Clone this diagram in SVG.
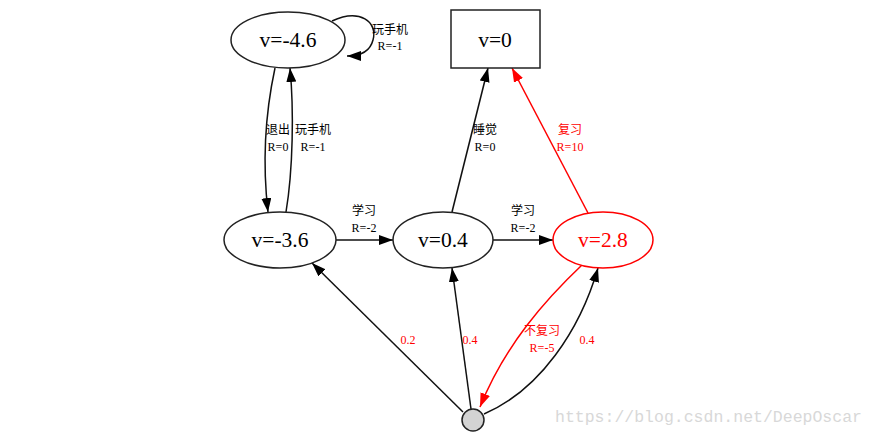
<svg xmlns="http://www.w3.org/2000/svg" width="875" height="436" viewBox="0 0 875 436">
<style>
.n{fill:#fff;stroke:#222;stroke-width:1.5}
.r{stroke:#f00}
.nt{font-family:"Liberation Serif","Noto Sans CJK SC",serif;font-size:21.5px;text-anchor:middle;fill:#000}
.lb{font-family:"Liberation Serif","Noto Sans CJK SC",serif;font-size:12px;text-anchor:middle;fill:#000}
.red{fill:#f00}
.e{fill:none;stroke:#111;stroke-width:1.5}
.er{fill:none;stroke:#f00;stroke-width:1.5}
</style>
<defs>
<marker id="a" markerUnits="userSpaceOnUse" markerWidth="15" markerHeight="11" refX="14" refY="5" orient="auto"><path d="M0,0 L14,5 L0,10 z" fill="#000"/></marker>
<marker id="ar" markerUnits="userSpaceOnUse" markerWidth="15" markerHeight="11" refX="14" refY="5" orient="auto"><path d="M0,0 L14,5 L0,10 z" fill="#f00"/></marker>
</defs>
<rect width="875" height="436" fill="#fff"/>
<g id="edges">
<path class="e" d="M332,21 C360,8 378,22 373,40 C370,52 360,56 347,56" marker-end="url(#a)"/>
<path class="e" d="M275,68 C266,110 262,160 268,212" marker-end="url(#a)"/>
<path class="e" d="M286,212 C293,170 294,110 290,68" marker-end="url(#a)"/>
<path class="e" d="M336,240 L393,240" marker-end="url(#a)"/>
<path class="e" d="M493,240 L553,240" marker-end="url(#a)"/>
<path class="e" d="M452,212 L488,68" marker-end="url(#a)"/>
<path class="er" d="M588,213 L512,68" marker-end="url(#ar)"/>
<path class="er" d="M583,264 C545,300 505,345 480,407" marker-end="url(#ar)"/>
<path class="e" d="M463,412 L312,263" marker-end="url(#a)"/>
<path class="e" d="M471,409 L452,268" marker-end="url(#a)"/>
<path class="e" d="M484,414 C540,390 580,330 598,268" marker-end="url(#a)"/>
<text class="lb" x="390" y="34">玩手机</text><text class="lb" x="390" y="50">R=-1</text>
<text class="lb" x="278" y="134">退出</text><text class="lb" x="278" y="151">R=0</text>
<text class="lb" x="313" y="134">玩手机</text><text class="lb" x="313" y="151">R=-1</text>
<text class="lb" x="364" y="215">学习</text><text class="lb" x="364" y="232">R=-2</text>
<text class="lb" x="523" y="215">学习</text><text class="lb" x="523" y="232">R=-2</text>
<text class="lb" x="485" y="134">睡觉</text><text class="lb" x="485" y="151">R=0</text>
<text class="lb red" x="570" y="134">复习</text><text class="lb red" x="570" y="151">R=10</text>
<text class="lb red" x="542" y="335">不复习</text><text class="lb red" x="542" y="352">R=-5</text>
<text class="lb red" x="408" y="344">0.2</text>
<text class="lb red" x="470" y="344">0.4</text>
<text class="lb red" x="587" y="344">0.4</text>
</g>
<g id="n46"><ellipse class="n" cx="288" cy="40" rx="57" ry="28"/><text class="nt" x="288" y="47">v=-4.6</text></g>
<g id="n0"><rect class="n" x="451" y="10" width="89" height="58"/><text class="nt" x="495" y="47">v=0</text></g>
<g id="n36"><ellipse class="n" cx="280" cy="240" rx="56" ry="28"/><text class="nt" x="280" y="247">v=-3.6</text></g>
<g id="n04"><ellipse class="n" cx="443" cy="240" rx="50" ry="28"/><text class="nt" x="443" y="247">v=0.4</text></g>
<g id="n28"><ellipse class="n r" cx="603" cy="240" rx="50" ry="28"/><text class="nt red" x="603" y="247">v=2.8</text></g>
<g id="chance"><circle cx="473" cy="420" r="11" fill="#d3d3d3" stroke="#222" stroke-width="1.5"/></g>
<text x="555" y="422" font-family="Liberation Mono,monospace" font-size="16.5" fill="#d8d8d8">https://blog.csdn.net/DeepOscar</text>
</svg>
